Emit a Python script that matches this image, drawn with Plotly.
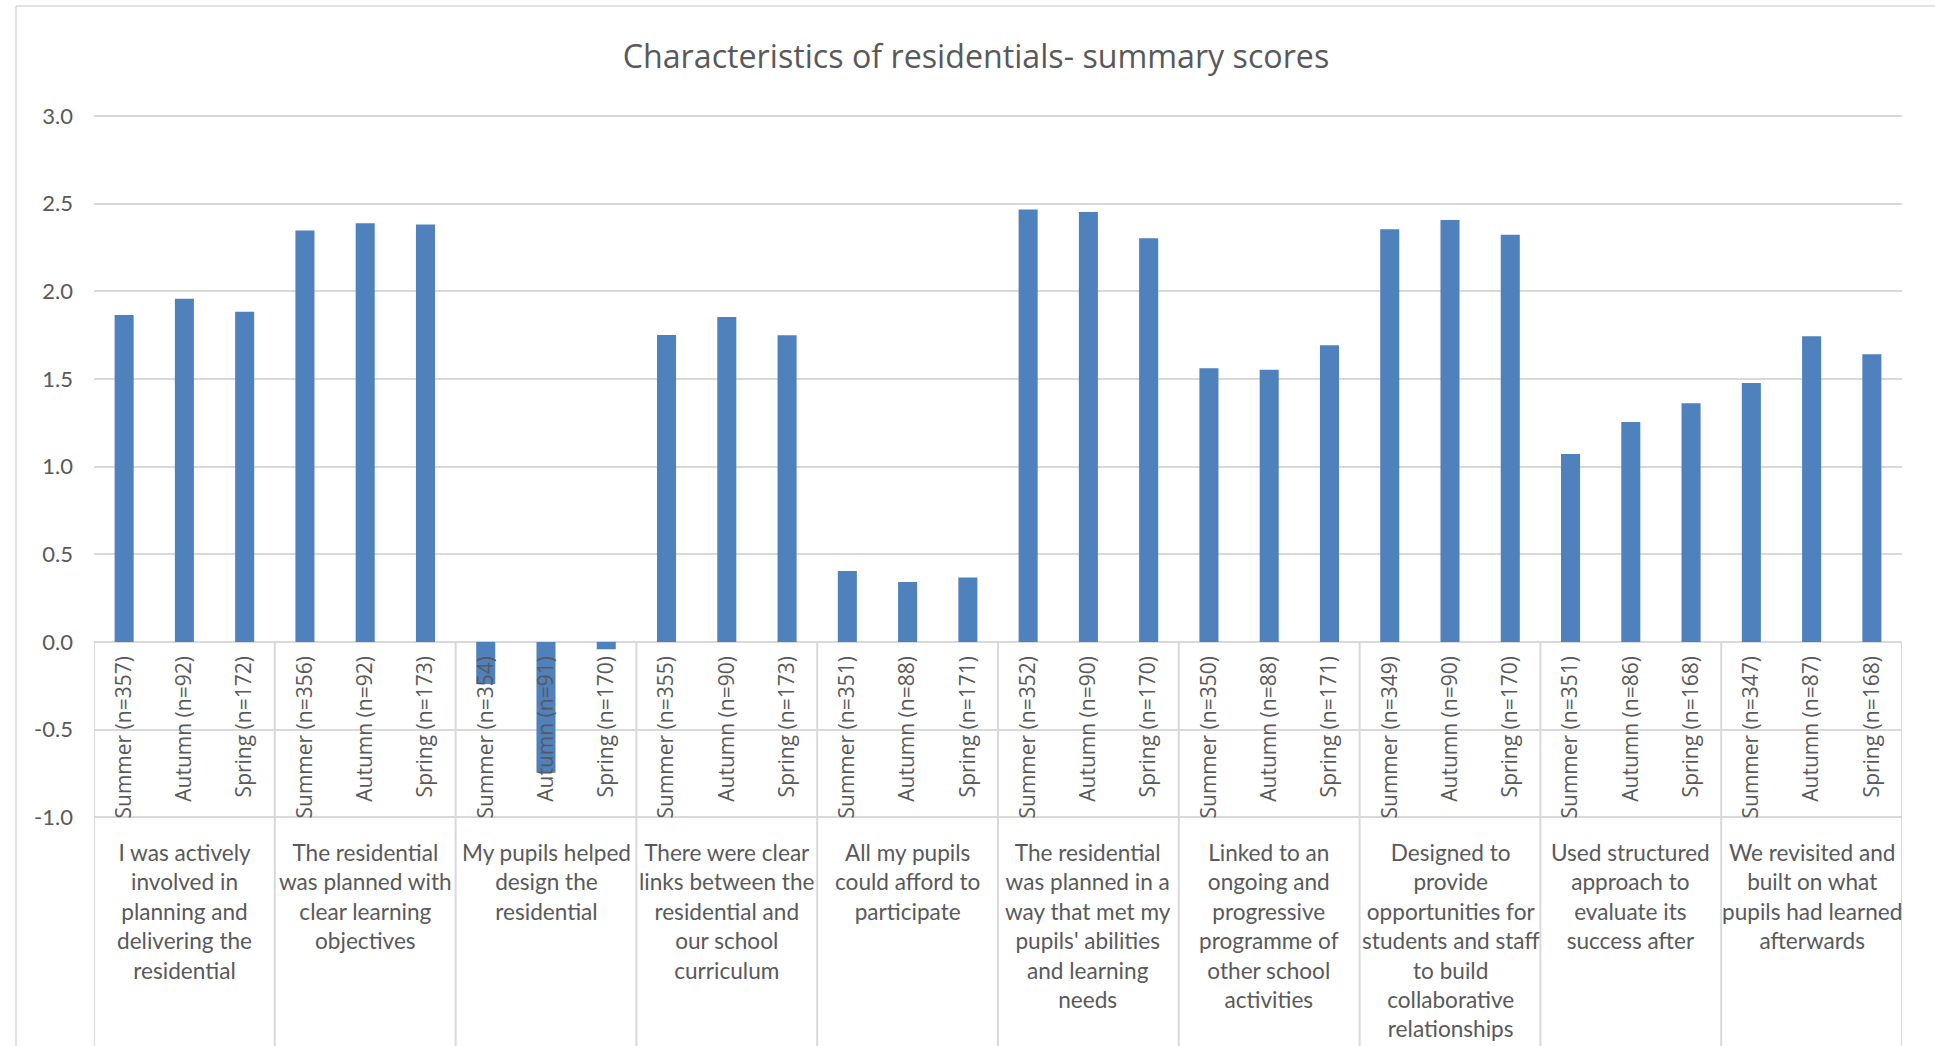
import plotly.graph_objects as go

# ---------------- data ----------------
groups = [
    "I was actively\ninvolved in\nplanning and\ndelivering the\nresidential",
    "The residential\nwas planned with\nclear learning\nobjectives",
    "My pupils helped\ndesign the\nresidential",
    "There were clear\nlinks between the\nresidential and\nour school\ncurriculum",
    "All my pupils\ncould afford to\nparticipate",
    "The residential\nwas planned in a\nway that met my\npupils' abilities\nand learning\nneeds",
    "Linked to an\nongoing and\nprogressive\nprogramme of\nother school\nactivities",
    "Designed to\nprovide\nopportunities for\nstudents and staff\nto build\ncollaborative\nrelationships",
    "Used structured\napproach to\nevaluate its\nsuccess after",
    "We revisited and\nbuilt on what\npupils had learned\nafterwards",
]
seasons = ["Summer", "Autumn", "Spring"]
n_summer = [357, 356, 354, 355, 351, 352, 350, 349, 351, 347]
n_autumn = [92, 92, 91, 90, 88, 90, 88, 90, 86, 87]
n_spring = [172, 173, 170, 173, 171, 170, 171, 170, 168, 168]
summer = [1.865, 2.347, -0.241, 1.751, 0.405, 2.466, 1.561, 2.354, 1.072, 1.477]
autumn = [1.957, 2.388, -0.746, 1.854, 0.342, 2.453, 1.553, 2.407, 1.255, 1.744]
spring = [1.883, 2.381, -0.042, 1.750, 0.367, 2.303, 1.692, 2.322, 1.361, 1.641]
y_ticks = [-1.0, -0.5, 0.0, 0.5, 1.0, 1.5, 2.0, 2.5, 3.0]
title = "Characteristics of residentials- summary scores"

# ---------------- build ----------------
values, labels = [], []
for g in range(len(groups)):
    for s, vals, ns in zip(seasons, [summer, autumn, spring], [n_summer, n_autumn, n_spring]):
        values.append(vals[g])
        labels.append(f"{s} (n={ns[g]})")
xs = list(range(len(values)))

W, H = 1935, 1046
px_per_unit = 175.3
y_top_tick = 3.0
top_px = 116           # pixel row of the 3.0 gridline
extra = 0.03           # a little headroom so the 3.0 gridline is drawn
ml, mr, mb = 94, 33, 0
mt = round(top_px - extra * px_per_unit)
plot_h = H - mt - mb
y_max = y_top_tick + (top_px - mt) / px_per_unit
y_min = y_max - plot_h / px_per_unit
zero_frac = (0 - y_min) / (y_max - y_min)

GRID = "#d9d9d9"
TXT = "#595959"

fig = go.Figure()
fig.add_trace(go.Bar(
    x=xs, y=values, marker=dict(color="#4F81BD", line=dict(width=0)),
    width=0.316, showlegend=False,
))

shapes = []
for g in range(len(groups) + 1):
    shapes.append(dict(type="line", xref="x", yref="paper",
                       x0=3 * g - 0.5, x1=3 * g - 0.5, y0=zero_frac, y1=0,
                       line=dict(color=GRID, width=2), layer="below"))


def px_x(p):
    return (p - ml) / (W - ml - mr)


def px_y(p):
    return (H - mb - p) / plot_h


# chart area border (left and top edges visible)
shapes.append(dict(type="line", xref="paper", yref="paper",
                   x0=px_x(16), x1=px_x(16), y0=px_y(6), y1=px_y(H + 5),
                   line=dict(color=GRID, width=1.5)))
shapes.append(dict(type="line", xref="paper", yref="paper",
                   x0=px_x(16), x1=px_x(W + 5), y0=px_y(6), y1=px_y(6),
                   line=dict(color=GRID, width=1.5)))

annotations = []
for g, name in enumerate(groups):
    annotations.append(dict(
        x=3 * g + 1, xref="x", y=px_y(837), yref="paper",
        text=name.replace("\n", "<br>"), showarrow=False,
        xanchor="center", yanchor="top", align="center",
        font=dict(family="Lato", size=22.6, color=TXT),
    ))

fig.update_layout(
    width=W, height=H,
    margin=dict(l=ml, r=mr, t=mt, b=mb, pad=0),
    paper_bgcolor="white", plot_bgcolor="white",
    title=dict(text=title, x=976 / W, xanchor="center", y=1 - 57 / H, yanchor="middle",
               font=dict(family="Open Sans", size=32.2, color=TXT)),
    xaxis=dict(type="linear", range=[-0.5, len(values) - 0.5],
               tickmode="array", tickvals=xs, ticktext=labels, tickangle=-90,
               anchor="free", position=zero_frac, side="bottom",
               showgrid=False, zeroline=False, showline=False, ticks="",
               ticklabelstandoff=9,
               tickfont=dict(family="Open Sans", size=21, color=TXT),
               automargin=False, fixedrange=True),
    yaxis=dict(range=[y_min, y_max], tickmode="array", tickvals=y_ticks,
               ticktext=[f"{v:.1f}" for v in y_ticks],
               showgrid=True, gridcolor=GRID, gridwidth=1.5,
               zeroline=True, zerolinecolor=GRID, zerolinewidth=2,
               showline=False, ticks="", ticklabelstandoff=20,
               tickfont=dict(family="Lato", size=22, color=TXT),
               automargin=False, fixedrange=True),
    shapes=shapes, annotations=annotations,
    bargap=0.68,
)

fig.write_html("out.html", config={"displayModeBar": False},
               post_script="document.body.style.margin='0';")
